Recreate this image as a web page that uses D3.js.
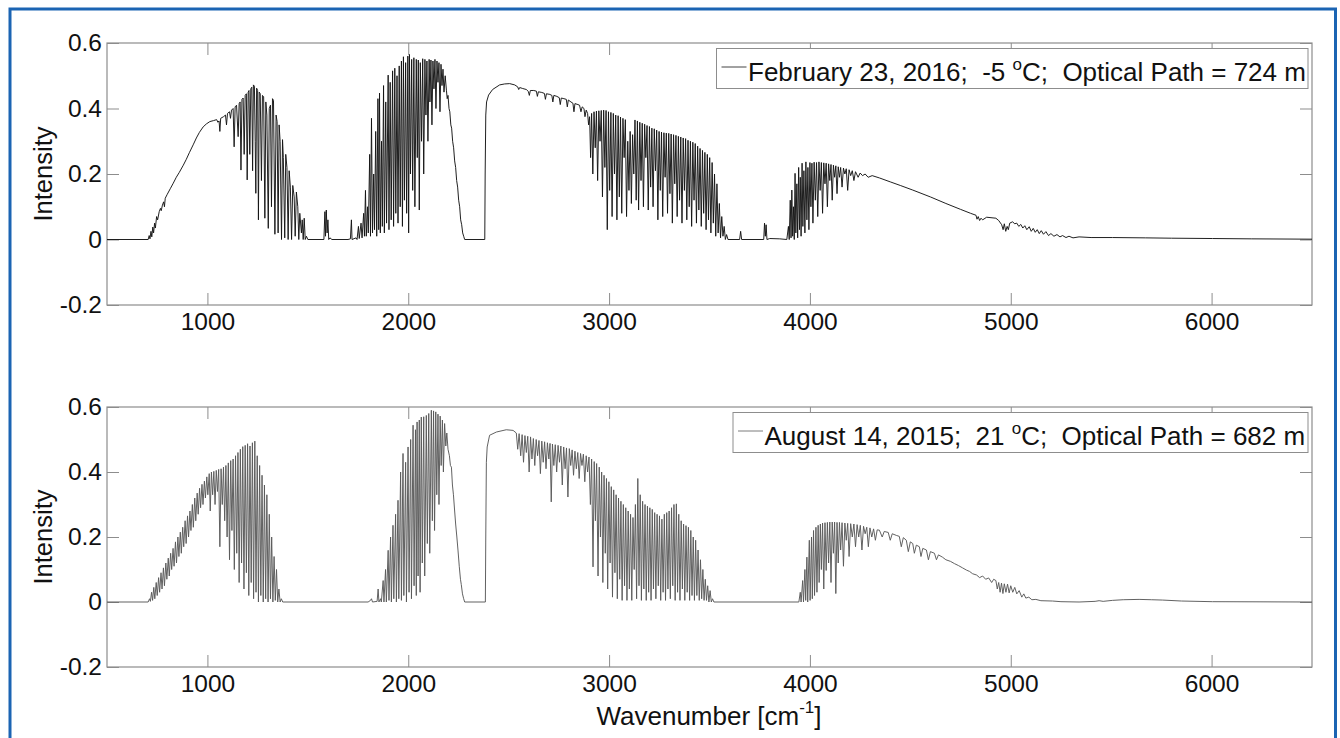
<!DOCTYPE html>
<html><head><meta charset="utf-8">
<script src="https://cdn.jsdelivr.net/npm/d3@7"></script>
<style>
body{margin:0;background:#fff}
svg{display:block}
text{font-family:"Liberation Sans",Arial,Helvetica,sans-serif;fill:#111}
</style>
</head><body>
<svg id="chart" width="1340" height="738"></svg>
<script>
// ---------- data ----------
const xDomain = [500, 6500];
const yDomain = [-0.2, 0.6];
const xTicks = [1000, 2000, 3000, 4000, 5000, 6000];
const yTicks = [-0.2, 0, 0.2, 0.4, 0.6];
const yTickLabels = ["-0.2", "0", "0.2", "0.4", "0.6"];
const xLabelParts = ["Wavenumber [cm", "-1", "]"];
const yLabel = "Intensity";
const febLegend = ["February 23, 2016;  -5 ", "o", "C;  Optical Path = 724 m"];
const augLegend = ["August 14, 2015;  21 ", "o", "C;  Optical Path = 682 m"];

// February 23, 2016 spectrum: [wavenumber, intensity]
const febSpectrum = [
[500,0],[705,0],[710,0.012],[714,0.002],[719,0.025],[723,0.008],[728,0.038],[732,0.02],[737,0.05],[741,0.035],[747,0.07],[752,0.06],[760,0.085],[766,0.095],[770,0.088],[776,0.105],[782,0.115],[786,0.1],[790,0.126],[800,0.138],[815,0.155],[830,0.172],[845,0.19],[860,0.205],[880,0.227],[895,0.245],[910,0.265],[929,0.289],[945,0.31],[960,0.327],[979,0.344],[995,0.353],[1012,0.36],[1030,0.363],[1046,0.366],
[1052,0.358],[1058,0.362],[1062,0.33],[1066,0.37],[1080,0.375],[1090,0.38],[1095,0.35],[1100,0.385],[1110,0.39],[1115,0.37],[1120,0.395],[1128,0.4],[1133,0.283],[1138,0.405],[1145,0.41],[1153,0.314],[1158,0.415],[1163,0.42],[1167,0.212],[1172,0.428],[1178,0.432],[1183,0.26],[1188,0.44],[1194,0.445],[1198,0.182],[1203,0.45],[1207,0.455],[1211,0.26],[1216,0.46],[1221,0.465],[1225,0.21],[1229,0.472],[1234,0.468],[1238,0.3],[1241,0.141],[1245,0.462],[1250,0.455],[1254,0.06],[1258,0.45],[1263,0.445],[1269,0.18],[1274,0.44],[1280,0.436],[1286,0.065],[1291,0.42],[1296,0.38],[1303,0.034],[1308,0.4],[1314,0.41],[1319,0.1],[1324,0.43],[1329,0.425],[1336,0.016],[1342,0.38],[1347,0.36],[1352,0.02],[1357,0.35],[1362,0.3],[1369,0],[1374,0.305],[1378,0.25],[1385,0.005],[1390,0.26],[1396,0.22],[1402,0],[1407,0.21],[1413,0.16],[1419,0],[1425,0.165],[1432,0.13],[1437,0.01],[1443,0.145],[1450,0.1],[1455,0],[1460,0.08],[1468,0.02],[1472,0.06],[1477,0],[1482,0.065],[1487,0],[1493,0.01],[1500,0],
[1580,0],[1585,0.085],[1588,0.01],[1592,0.09],[1596,0.02],[1600,0.06],[1604,0],[1610,0.005],[1620,0],[1700,0],[1712,0.002],[1717,0.06],[1720,0],[1740,0.005],[1745,0],
[1752,0.04],[1756,0.003],[1765,0.05],[1770,0.005],[1778,0.08],[1782,0.01],[1787,0.15],[1791,0.01],[1797,0.1],[1801,0.02],[1808,0.26],[1812,0.01],[1817,0.37],[1822,0.02],[1828,0.2],[1832,0.03],[1838,0.33],[1843,0.01],[1849,0.43],[1853,0.03],[1857,0.447],[1861,0.02],[1867,0.3],[1871,0.04],[1877,0.47],[1881,0.02],[1888,0.42],[1892,0.05],[1900,0.502],[1904,0.03],[1910,0.48],[1915,0.06],[1922,0.515],[1927,0.04],[1933,0.523],[1938,0.08],[1944,0.5],[1949,0.05],[1955,0.53],[1960,0.1],[1966,0.545],[1971,0.04],[1976,0.558],[1981,0.12],[1987,0.54],[1992,0.08],[1998,0.56],[2002,0.02],[2006,0.565],[2011,0.2],[2017,0.55],[2022,0.15],[2028,0.555],[2033,0.1],[2040,0.55],[2045,0.25],[2050,0.548],[2055,0.09],[2060,0.54],[2066,0.3],[2072,0.552],[2077,0.2],[2083,0.55],[2088,0.38],[2093,0.545],[2098,0.3],[2104,0.55],[2108,0.42],[2113,0.548],[2118,0.35],[2123,0.545],[2128,0.46],[2133,0.55],[2138,0.4],[2143,0.545],[2148,0.48],[2153,0.54],[2158,0.39],[2163,0.535],[2168,0.47],[2173,0.52],[2178,0.45],[2184,0.5],[2190,0.456],[2194,0.43],[2198,0.44],[2203,0.4],[2207,0.39],[2212,0.35],[2216,0.34],[2221,0.3],[2226,0.28],[2231,0.24],[2236,0.22],[2241,0.18],[2246,0.16],[2251,0.12],[2256,0.1],[2261,0.06],[2266,0.045],[2271,0.02],[2276,0.01],[2281,0],
[2381,0],[2383,0.2],[2386,0.38],[2390,0.42],[2400,0.441],[2420,0.458],[2455,0.472],[2480,0.475],[2505,0.476],[2530,0.472],[2545,0.466],[2550,0.458],[2555,0.464],[2570,0.461],[2588,0.458],[2598,0.452],[2603,0.44],[2608,0.455],[2625,0.455],[2638,0.453],[2643,0.437],[2648,0.451],[2665,0.449],[2678,0.446],[2683,0.428],[2688,0.445],[2705,0.443],[2715,0.44],[2720,0.42],[2725,0.44],[2740,0.437],[2752,0.433],[2757,0.412],[2762,0.432],[2775,0.43],[2787,0.428],[2792,0.405],[2797,0.426],[2810,0.42],[2820,0.416],[2825,0.39],[2830,0.415],[2845,0.412],[2853,0.41],[2860,0.39],[2866,0.405],[2875,0.4],[2880,0.375],[2886,0.395],[2893,0.385],[2898,0.35],
[2903,0.375],[2908,0.25],[2913,0.385],[2919,0.2],[2925,0.39],[2931,0.28],[2937,0.392],[2943,0.18],[2949,0.393],[2955,0.3],[2961,0.394],[2967,0.13],[2973,0.395],[2979,0.22],[2985,0.394],[2991,0.03],[2997,0.39],[3003,0.15],[3009,0.388],[3015,0.07],[3021,0.385],[3027,0.2],[3033,0.38],[3039,0.06],[3045,0.378],[3051,0.13],[3057,0.374],[3063,0.08],[3069,0.37],[3075,0.25],[3081,0.366],[3087,0.07],[3093,0.3],[3099,0.15],[3105,0.33],[3111,0.11],[3117,0.32],[3123,0.2],[3129,0.365],[3135,0.12],[3141,0.362],[3147,0.09],[3153,0.358],[3159,0.18],[3165,0.355],[3171,0.1],[3177,0.352],[3183,0.25],[3189,0.348],[3195,0.09],[3201,0.345],[3207,0.16],[3213,0.34],[3219,0.1],[3225,0.338],[3231,0.21],[3237,0.334],[3243,0.06],[3249,0.33],[3255,0.15],[3261,0.328],[3267,0.07],[3273,0.326],[3279,0.19],[3285,0.325],[3291,0.08],[3297,0.324],[3303,0.14],[3309,0.322],[3315,0.05],[3321,0.32],[3327,0.17],[3333,0.318],[3339,0.07],[3345,0.315],[3351,0.12],[3357,0.313],[3363,0.05],[3369,0.31],[3375,0.15],[3381,0.308],[3387,0.06],[3393,0.303],[3399,0.1],[3405,0.3],[3411,0.04],[3417,0.297],[3423,0.12],[3429,0.293],[3435,0.05],[3441,0.285],[3447,0.09],[3453,0.278],[3459,0.04],[3465,0.272],[3471,0.08],[3477,0.266],[3483,0.03],[3489,0.26],[3495,0.06],[3501,0.25],[3507,0.02],[3513,0.235],[3519,0.05],[3525,0.2],[3531,0.01],[3537,0.17],[3543,0.02],[3549,0.11],[3555,0.005],[3561,0.07],[3567,0.01],[3573,0.04],[3579,0],[3585,0.015],[3592,0],
[3650,0],[3655,0.025],[3660,0],[3770,0],[3774,0.05],[3778,0.01],[3782,0.045],[3786,0],[3800,0.003],[3850,0.002],[3885,0],
[3893,0.04],[3897,0],[3902,0.12],[3906,0.005],[3910,0.151],[3914,0.01],[3918,0.1],[3922,0],[3926,0.202],[3930,0.02],[3935,0.17],[3939,0.005],[3944,0.22],[3948,0.03],[3952,0.19],[3956,0.01],[3961,0.233],[3965,0.04],[3970,0.21],[3975,0.02],[3980,0.237],[3985,0.06],[3990,0.22],[3995,0.03],[4000,0.235],[4005,0.1],[4010,0.233],[4015,0.05],[4021,0.236],[4027,0.12],[4033,0.235],[4039,0.07],[4045,0.237],[4051,0.15],[4057,0.235],[4063,0.08],[4069,0.234],[4075,0.17],[4081,0.233],[4087,0.1],[4093,0.231],[4099,0.18],[4105,0.229],[4111,0.12],[4117,0.227],[4123,0.19],[4129,0.225],[4135,0.14],[4141,0.222],[4147,0.19],[4153,0.22],[4160,0.16],[4167,0.218],[4174,0.2],[4181,0.216],[4188,0.15],[4195,0.213],[4203,0.195],[4211,0.21],[4219,0.18],[4227,0.207],[4240,0.19],[4250,0.203],[4262,0.195],[4275,0.2],[4290,0.19],[4310,0.195],[4346,0.188],[4400,0.176],[4450,0.165],[4512,0.151],[4600,0.13],[4677,0.11],[4750,0.092],[4800,0.08],[4827,0.074],[4832,0.062],[4838,0.07],[4845,0.058],[4852,0.065],[4860,0.06],[4880,0.068],[4926,0.065],[4940,0.058],[4955,0.045],[4962,0.03],[4968,0.048],[4975,0.025],[4982,0.04],[4988,0.03],[4995,0.05],[5009,0.054],[5020,0.048],[5030,0.05],[5040,0.04],[5050,0.046],[5060,0.035],[5070,0.042],[5080,0.03],[5092,0.039],[5102,0.025],[5112,0.034],[5122,0.022],[5132,0.03],[5142,0.018],[5152,0.027],[5163,0.016],[5175,0.024],[5188,0.012],[5200,0.018],[5215,0.01],[5230,0.015],[5245,0.008],[5258,0.012],[5275,0.006],[5290,0.01],[5310,0.005],[5340,0.008],[5400,0.006],[5506,0.006],[5672,0.005],[5800,0.004],[6004,0.003],[6200,0.002],[6500,0.001]
];

// August 14, 2015 spectrum: [wavenumber, intensity]
const augSpectrum = [
[500,0],[705,0],[712,0.01],[716,0.002],[722,0.03],[727,0.005],[733,0.045],[738,0.01],[745,0.06],[750,0.02],[757,0.075],[762,0.03],[769,0.09],[774,0.04],[781,0.105],[786,0.05],[793,0.12],[798,0.07],[805,0.135],[810,0.08],[817,0.15],[822,0.1],[829,0.165],[834,0.11],[841,0.185],[846,0.12],[853,0.2],[858,0.14],[865,0.215],[870,0.15],[877,0.23],[882,0.17],[889,0.25],[894,0.18],[901,0.265],[906,0.2],[913,0.28],[918,0.22],[925,0.3],[930,0.23],[937,0.32],[942,0.25],[949,0.335],[954,0.27],[961,0.35],[966,0.29],[973,0.362],[978,0.3],[985,0.372],[990,0.32],[997,0.385],[1002,0.33],[1009,0.395],[1014,0.28],[1020,0.4],[1026,0.33],[1032,0.402],[1038,0.3],[1044,0.405],[1050,0.34],[1056,0.408],[1062,0.17],[1068,0.41],[1074,0.3],[1080,0.415],[1086,0.25],[1092,0.42],[1098,0.2],[1104,0.428],[1110,0.13],[1116,0.435],[1122,0.22],[1128,0.44],[1134,0.1],[1140,0.45],[1146,0.15],[1152,0.46],[1158,0.06],[1164,0.47],[1170,0.12],[1176,0.478],[1182,0.04],[1188,0.482],[1194,0.09],[1200,0.487],[1206,0.02],[1212,0.48],[1218,0.06],[1224,0.49],[1230,0.01],[1236,0.495],[1242,0.03],[1248,0.45],[1254,0],[1260,0.42],[1266,0.02],[1272,0.39],[1278,0],[1284,0.36],[1290,0.01],[1296,0.33],[1302,0],[1308,0.27],[1314,0.01],[1320,0.2],[1326,0],[1332,0.14],[1338,0.005],[1344,0.1],[1350,0],[1356,0.04],[1362,0],[1368,0.01],[1375,0],
[1800,0],[1812,0.005],[1817,0.01],[1822,0],[1845,0.002],[1850,0.04],[1854,0],[1862,0.01],[1866,0],[1875,0.066],[1879,0],[1887,0.1],[1891,0],[1900,0.159],[1904,0.005],[1912,0.2],[1916,0],[1924,0.236],[1928,0.01],[1937,0.27],[1941,0],[1949,0.313],[1953,0.01],[1962,0.4],[1966,0.005],[1974,0.457],[1978,0.02],[1987,0.43],[1991,0],[1999,0.477],[2004,0.03],[2012,0.5],[2016,0.01],[2024,0.544],[2029,0.05],[2036,0.53],[2040,0.02],[2044,0.554],[2049,0.08],[2055,0.56],[2059,0.03],[2065,0.569],[2070,0.12],[2077,0.57],[2082,0.08],[2090,0.574],[2095,0.18],[2102,0.58],[2107,0.15],[2115,0.59],[2120,0.25],[2126,0.588],[2131,0.22],[2137,0.585],[2142,0.33],[2148,0.578],[2153,0.3],[2159,0.572],[2164,0.42],[2170,0.56],[2175,0.4],[2181,0.549],[2187,0.48],[2192,0.52],[2198,0.47],[2205,0.45],[2210,0.42],[2215,0.415],[2220,0.36],[2225,0.33],[2231,0.28],[2236,0.24],[2242,0.2],[2248,0.157],[2254,0.11],[2260,0.07],[2264,0.054],[2270,0.025],[2276,0.01],[2281,0],
[2384,0],[2386,0.2],[2389,0.43],[2393,0.477],[2405,0.513],[2439,0.523],[2488,0.53],[2522,0.528],[2538,0.52],[2545,0.47],[2552,0.518],[2560,0.45],[2567,0.515],[2574,0.43],[2581,0.512],[2588,0.46],[2595,0.51],[2602,0.4],[2609,0.508],[2616,0.44],[2623,0.503],[2630,0.42],[2637,0.5],[2644,0.45],[2651,0.497],[2658,0.395],[2665,0.495],[2672,0.43],[2679,0.493],[2686,0.41],[2693,0.49],[2700,0.44],[2706,0.488],[2712,0.308],[2718,0.486],[2725,0.42],[2732,0.484],[2739,0.4],[2746,0.482],[2753,0.43],[2760,0.48],[2767,0.36],[2774,0.477],[2781,0.41],[2788,0.474],[2795,0.323],[2802,0.472],[2809,0.42],[2816,0.468],[2823,0.39],[2830,0.464],[2837,0.41],[2844,0.46],[2851,0.38],[2858,0.457],[2865,0.42],[2872,0.455],[2879,0.37],[2886,0.45],[2893,0.4],[2900,0.446],
[2907,0.3],[2913,0.44],[2920,0.108],[2926,0.432],[2932,0.25],[2938,0.426],[2945,0.08],[2951,0.415],[2957,0.2],[2963,0.4],[2969,0.06],[2975,0.39],[2981,0.15],[2987,0.38],[2993,0.04],[2999,0.37],[3005,0.12],[3011,0.355],[3017,0.015],[3023,0.345],[3029,0.09],[3035,0.33],[3041,0.01],[3047,0.32],[3053,0.07],[3059,0.31],[3065,0.005],[3071,0.3],[3077,0.05],[3083,0.29],[3089,0.005],[3095,0.28],[3101,0.04],[3107,0.27],[3113,0.005],[3119,0.26],[3125,0.1],[3131,0.3],[3137,0.01],[3143,0.38],[3149,0.05],[3155,0.33],[3161,0.005],[3167,0.31],[3173,0.04],[3179,0.3],[3185,0.005],[3191,0.295],[3197,0.03],[3203,0.29],[3209,0.005],[3215,0.285],[3221,0.04],[3227,0.275],[3233,0.01],[3239,0.27],[3245,0.05],[3251,0.265],[3257,0.005],[3263,0.255],[3269,0.03],[3275,0.27],[3281,0.005],[3287,0.275],[3293,0.04],[3299,0.28],[3305,0.01],[3311,0.29],[3317,0.05],[3323,0.3],[3329,0.005],[3335,0.302],[3341,0.03],[3347,0.27],[3353,0.005],[3359,0.25],[3365,0.04],[3371,0.24],[3377,0.005],[3383,0.235],[3389,0.03],[3395,0.23],[3401,0.005],[3407,0.22],[3413,0.02],[3419,0.2],[3425,0.005],[3431,0.19],[3437,0.02],[3443,0.16],[3449,0.005],[3455,0.13],[3461,0.01],[3467,0.1],[3473,0.005],[3479,0.07],[3485,0.005],[3491,0.05],[3497,0],[3503,0.035],[3509,0],[3515,0.01],[3522,0],
[3945,0],[3952,0.03],[3956,0],[3964,0.066],[3968,0],[3975,0.1],[3979,0.005],[3985,0.138],[3989,0],[3997,0.19],[4001,0.005],[4008,0.2],[4012,0.01],[4018,0.22],[4023,0.02],[4030,0.23],[4035,0.03],[4041,0.236],[4046,0.06],[4052,0.24],[4057,0.1],[4063,0.243],[4069,0.04],[4075,0.244],[4081,0.097],[4087,0.245],[4093,0.12],[4099,0.246],[4105,0.06],[4111,0.246],[4117,0.15],[4123,0.246],[4129,0.026],[4135,0.245],[4141,0.12],[4147,0.245],[4153,0.16],[4160,0.244],[4167,0.11],[4174,0.243],[4181,0.19],[4188,0.242],[4195,0.14],[4203,0.241],[4211,0.2],[4219,0.24],[4227,0.17],[4235,0.238],[4243,0.2],[4251,0.236],[4259,0.16],[4267,0.233],[4275,0.21],[4283,0.23],[4291,0.17],[4299,0.228],[4308,0.2],[4317,0.225],[4326,0.19],[4335,0.222],[4346,0.221],[4360,0.2],[4370,0.217],[4390,0.214],[4400,0.19],[4410,0.21],[4430,0.205],[4445,0.202],[4455,0.17],[4465,0.198],[4480,0.19],[4490,0.155],[4500,0.185],[4512,0.18],[4520,0.15],[4530,0.175],[4545,0.17],[4553,0.14],[4562,0.165],[4580,0.16],[4590,0.13],[4600,0.155],[4620,0.15],[4630,0.13],[4640,0.145],[4660,0.138],[4677,0.13],[4700,0.125],[4720,0.118],[4740,0.112],[4760,0.105],[4780,0.098],[4795,0.094],[4810,0.087],[4830,0.083],[4845,0.075],[4860,0.08],[4875,0.07],[4890,0.074],[4905,0.06],[4915,0.07],[4926,0.066],[4933,0.04],[4940,0.06],[4947,0.03],[4954,0.058],[4961,0.026],[4968,0.056],[4976,0.03],[4984,0.055],[4992,0.028],[5000,0.05],[5010,0.03],[5020,0.045],[5030,0.025],[5042,0.035],[5055,0.015],[5065,0.025],[5075,0.012],[5090,0.015],[5105,0.007],[5125,0.008],[5150,0.004],[5208,0.003],[5250,0.001],[5340,0],[5420,0.002],[5440,0.004],[5460,0.002],[5506,0.005],[5560,0.007],[5639,0.008],[5700,0.007],[5755,0.006],[5850,0.003],[6004,0.001],[6500,0]
];

// ---------- drawing ----------
const svg = d3.select("#chart");
svg.append("rect").attr("x", 0).attr("y", 0).attr("width", 1340).attr("height", 738).attr("fill", "#fff");
// blue frame
svg.append("rect").attr("x", 10).attr("y", 9).attr("width", 1325.5).attr("height", 760)
  .attr("fill", "none").attr("stroke", "#1b64b3").attr("stroke-width", 3);

const plotLeft = 107, plotRight = 1312;
const axisColor = "#8d8d8d";

function drawPanel(opts) {
  const { top, bottom, data, color, legend, legendX, id } = opts;
  const x = d3.scaleLinear().domain(xDomain).range([plotLeft, plotRight]);
  const y = d3.scaleLinear().domain(yDomain).range([bottom, top]);
  const g = svg.append("g");

  g.append("clipPath").attr("id", id).append("rect")
    .attr("x", plotLeft).attr("y", top).attr("width", plotRight - plotLeft).attr("height", bottom - top);

  // axes (ticks inward, MATLAB style)
  const axB = d3.axisBottom(x).tickValues(xTicks).tickFormat(d3.format("d")).tickSizeInner(-12).tickSizeOuter(0).tickPadding(8);
  const axT = d3.axisTop(x).tickValues(xTicks).tickFormat("").tickSizeInner(-12).tickSizeOuter(0);
  const axL = d3.axisLeft(y).tickValues(yTicks).tickFormat((d, i) => yTickLabels[i]).tickSizeInner(-12).tickSizeOuter(0).tickPadding(5);
  const axR = d3.axisRight(y).tickValues(yTicks).tickFormat("").tickSizeInner(-12).tickSizeOuter(0);

  const styleAxis = sel => {
    sel.select(".domain").remove();
    sel.selectAll(".tick line").attr("stroke", axisColor).attr("stroke-width", 1);
    sel.selectAll(".tick text").attr("fill", "#111").style("font-size", "24.5px")
      .style("font-family", '"Liberation Sans", Arial, sans-serif');
  };
  g.append("g").attr("transform", `translate(0,${bottom})`).call(axB).call(styleAxis);
  g.append("g").attr("transform", `translate(0,${top})`).call(axT).call(styleAxis);
  g.append("g").attr("transform", `translate(${plotLeft},0)`).call(axL).call(styleAxis);
  g.append("g").attr("transform", `translate(${plotRight},0)`).call(axR).call(styleAxis);

  g.append("rect").attr("x", plotLeft).attr("y", top).attr("width", plotRight - plotLeft).attr("height", bottom - top)
    .attr("fill", "none").attr("stroke", axisColor).attr("stroke-width", 1.2);

  // spectrum
  const line = d3.line().x(d => x(d[0])).y(d => y(d[1]));
  g.append("path").datum(data).attr("clip-path", `url(#${id})`)
    .attr("d", line).attr("fill", "none").attr("stroke", color).attr("stroke-width", 0.95)
    .attr("stroke-linejoin", "miter").attr("stroke-miterlimit", 2);

  // y label
  g.append("text").attr("transform", `translate(51.5,${(top + bottom) / 2}) rotate(-90)`)
    .attr("text-anchor", "middle").style("font-size", "25.5px").text(yLabel);

  // legend
  const lx = legendX, lTop = top + 5.5, lH = 40, lRight = 1308;
  g.append("rect").attr("x", lx).attr("y", lTop).attr("width", lRight - lx).attr("height", lH)
    .attr("fill", "#fff").attr("stroke", axisColor).attr("stroke-width", 1);
  g.append("line").attr("x1", lx + 5).attr("x2", lx + 30).attr("y1", lTop + 18.5).attr("y2", lTop + 18.5)
    .attr("stroke", color).attr("stroke-width", 0.8);
  const t = g.append("text").attr("x", lx + 31.5).attr("y", lTop + 32).style("font-size", "26px")
    .attr("xml:space", "preserve").style("white-space", "pre");
  t.append("tspan").text(legend[0]);
  t.append("tspan").attr("dy", -11).style("font-size", "17px").text(legend[1]);
  t.append("tspan").attr("dy", 11).text(legend[2]);
}

drawPanel({ top: 43, bottom: 305, data: febSpectrum, color: "#141414", legend: febLegend, legendX: 716.5, id: "clipFeb" });
drawPanel({ top: 407, bottom: 667, data: augSpectrum, color: "#5a5a5a", legend: augLegend, legendX: 733, id: "clipAug" });

// x label
const xl = svg.append("text").attr("x", 709).attr("y", 725).attr("text-anchor", "middle")
  .style("font-size", "26px").attr("xml:space", "preserve");
xl.append("tspan").text(xLabelParts[0]);
xl.append("tspan").attr("dy", -12).style("font-size", "17px").text(xLabelParts[1]);
xl.append("tspan").attr("dy", 12).text(xLabelParts[2]);
</script>
</body></html>
